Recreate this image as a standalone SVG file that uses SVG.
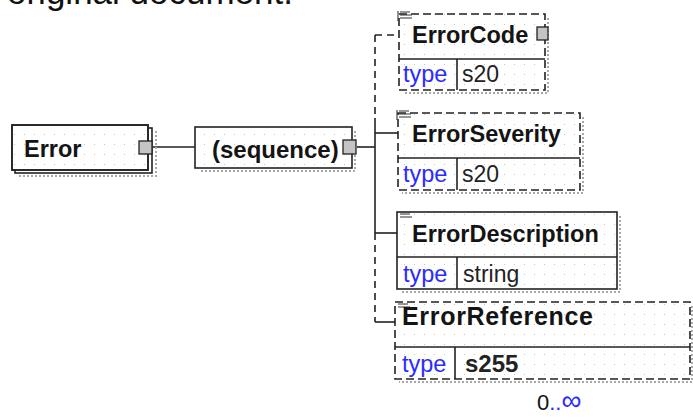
<svg xmlns="http://www.w3.org/2000/svg" width="693" height="417" viewBox="0 0 693 417">
<defs>
<pattern id="dots" width="10" height="10" patternUnits="userSpaceOnUse">
<rect x="4" y="4" width="1" height="1" fill="#c4c4c4"/>
</pattern>
<style>
.box{fill:url(#dots);stroke:#222;stroke-width:1.6}
.bg{fill:#fff}
.dash{stroke-dasharray:8 4}
.shadow{fill:none;stroke:#a8a8a8;stroke-width:2;stroke-dasharray:2 2}
.ln{fill:none;stroke:#222;stroke-width:1.6}
.lnd{fill:none;stroke:#222;stroke-width:1.6;stroke-dasharray:7 5}
.sq{fill:#c4c4c4;stroke:#222;stroke-width:1.3}
.name{font-family:"Liberation Sans",Arial,sans-serif;font-weight:bold;font-size:23.5px;fill:#141414}
.val{font-family:"Liberation Sans",Arial,sans-serif;font-size:23px;fill:#222}
.type{font-family:"Liberation Sans",Arial,sans-serif;font-size:23.5px;fill:#2b2bff}
.icon{fill:none;stroke:#333;stroke-width:1.1}
</style>
</defs>
<rect width="693" height="417" fill="#fff"/>
<text x="293" y="3.5" text-anchor="end" font-family="'Liberation Sans',Arial,sans-serif" font-size="35" fill="#111">original document.</text>

<g id="connectors">
<line class="ln" x1="153" y1="147" x2="195" y2="147"/>
<line class="ln" x1="357" y1="147" x2="375" y2="147"/>
<line class="lnd" x1="375" y1="35" x2="375" y2="118"/>
<line class="ln" x1="375" y1="118" x2="375" y2="233"/>
<line class="lnd" x1="375" y1="233" x2="375" y2="322"/>
<line class="lnd" x1="375" y1="35" x2="399" y2="35"/>
<line class="ln" x1="375" y1="133" x2="398" y2="133"/>
<line class="ln" x1="375" y1="233" x2="397" y2="233"/>
<line class="ln" x1="375" y1="322" x2="395" y2="322"/>
</g>

<g id="node-error">
<polyline class="shadow" points="156,131 156,176 18,176"/>
<rect class="bg" x="15" y="128" width="137" height="45" stroke="#222" stroke-width="1.6"/>
<rect class="box" x="12" y="125" width="136" height="45" style="fill:#fff"/>
<rect class="box" x="12" y="125" width="136" height="45"/>
<text class="name" x="24" y="157" font-size="24">Error</text>
<rect class="sq" x="139" y="141" width="13" height="13"/>
</g>

<g id="node-sequence">
<polyline class="shadow" points="355,131 355,171 199,171"/>
<rect class="bg" x="195" y="127" width="157" height="41"/>
<rect class="box" x="195" y="127" width="157" height="41"/>
<text class="name" x="212" y="158" style="font-size:24px">(sequence)</text>
<rect class="sq" x="343" y="140" width="13" height="14"/>
</g>

<g id="node-errorcode">
<polyline class="shadow" points="548,18 548,93 403,93"/>
<rect class="bg" x="399" y="14" width="146" height="76"/>
<rect class="box dash" x="399" y="14" width="146" height="76"/>
<line class="ln" x1="399" y1="59" x2="545" y2="59"/>
<line class="ln" x1="457" y1="59" x2="457" y2="90"/>
<path class="icon" d="M398 11v10M400 12h10M400 15h12M400 18h12"/>
<text class="name" x="412" y="43">ErrorCode</text>
<rect class="sq" x="537" y="27" width="11" height="13"/>
<text class="type" x="403" y="82">type</text>
<text class="val" x="462" y="82">s20</text>
</g>

<g id="node-errorseverity">
<polyline class="shadow" points="583,117 583,193 402,193"/>
<rect class="bg" x="398" y="113" width="182" height="77"/>
<rect class="box dash" x="398" y="113" width="182" height="77"/>
<line class="ln" x1="398" y1="158" x2="580" y2="158"/>
<line class="ln" x1="457" y1="158" x2="457" y2="190"/>
<path class="icon" d="M397 110v10M399 111h10M399 114h12M399 117h12"/>
<text class="name" x="412" y="142">ErrorSeverity</text>
<text class="type" x="403" y="182">type</text>
<text class="val" x="462" y="182">s20</text>
</g>

<g id="node-errordescription">
<polyline class="shadow" points="620,216 620,292 401,292"/>
<rect class="bg" x="397" y="212" width="220" height="77"/>
<rect class="box" x="397" y="212" width="220" height="77"/>
<line class="ln" x1="397" y1="257" x2="617" y2="257"/>
<line class="ln" x1="457" y1="257" x2="457" y2="289"/>
<path class="icon" d="M400 214h10M400 217h12"/>
<text class="name" x="412" y="242">ErrorDescription</text>
<text class="type" x="403" y="282">type</text>
<text class="val" x="463" y="282">string</text>
</g>

<g id="node-errorreference">
<polyline class="shadow" points="692,306 692,382 399,382"/>
<rect class="bg" x="395" y="302" width="295" height="77"/>
<rect class="box dash" x="395" y="302" width="295" height="77"/>
<line class="ln" x1="395" y1="347" x2="690" y2="347"/>
<line class="ln" x1="455" y1="347" x2="455" y2="379"/>
<path class="icon" d="M398 304h10M398 307h12"/>
<text class="name" x="402" y="325" textLength="191" style="font-size:25px">ErrorReference</text>
<text class="type" x="402" y="372">type</text>
<text class="val" x="465" y="372" font-weight="bold" style="font-size:24px">s255</text>
<text x="537" y="410" font-family="'Liberation Sans',Arial,sans-serif" font-size="22" fill="#111">0<tspan fill="#2b2bff">..</tspan><tspan fill="#2b2bff" font-size="28">∞</tspan></text>
</g>
</svg>
